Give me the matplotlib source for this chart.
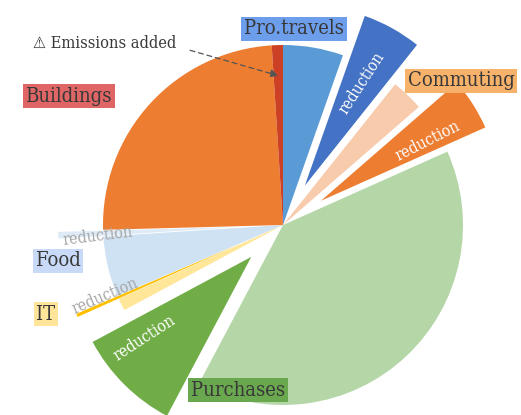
import numpy as np
import matplotlib.pyplot as plt

# Slices, clockwise from 12 o'clock (share of total, %)
slice_names = ['Pro.travels', 'reduction', 'Commuting', 'reduction', 'Purchases', 'reduction',
               'IT', 'reduction', 'Food', 'reduction', 'Buildings', 'Emissions added']
slice_values = [5.4, 5.3, 2.9, 4.7, 39.4, 9.4, 1.1, 0.3, 5.4, 0.6, 24.4, 1.0]
slice_colors = ['#5b9bd5', '#4472c4', '#f8cbad', '#ed7d31', '#b5d7a8', '#70ad47',
                '#ffe699', '#ffc000', '#cfe2f3', '#deebf7', '#ed7d31', '#cc4125']
is_reduction = [0, 1, 0, 1, 0, 1, 0, 1, 0, 1, 0, 0]

# Category tags (pixel positions on the 521x415 canvas)
cat_names = ['Pro.travels', 'Commuting', 'Purchases', 'IT', 'Food', 'Buildings']
cat_pos = [(294, 29), (461, 81), (238, 390), (46, 314), (58, 261), (69, 96)]
cat_bg = ['#6d9eeb', '#f6b26b', '#6aa84f', '#ffe599', '#c9daf8', '#e06666']

# "reduction" labels on the exploded slices
red_pos = [(362, 83), (428, 141), (144, 338), (105, 296), (98, 236)]
red_rot = [57, 27, 33, 23, 7]
red_col = ['white', 'white', 'white', '#a6a6a6', '#a6a6a6']

W, H = 521, 415
R = 180
cx, cy = 283, 225

fig = plt.figure(figsize=(W / 100, H / 100), dpi=100)
ax = fig.add_axes([0, 0, 1, 1])

explode = [0.25 * R * e for e in is_reduction]
wedges, _ = ax.pie(slice_values, colors=slice_colors, explode=explode, startangle=90,
                   counterclock=False, radius=R, center=(cx, H - cy),
                   wedgeprops=dict(linewidth=0))

ax.set_xlim(0, W)
ax.set_ylim(0, H)
ax.set_aspect('equal')
ax.axis('off')

serif = ['DejaVu Serif', 'DejaVu Sans']
for name, (x, y), bg in zip(cat_names, cat_pos, cat_bg):
    ax.text(x, H - y, name, ha='center', va='center', fontsize=14.5, family=serif,
            fontstretch='condensed', color='#383838',
            bbox=dict(boxstyle='square,pad=0.14', facecolor=bg, edgecolor='none'))

for (x, y), rot, col in zip(red_pos, red_rot, red_col):
    ax.text(x, H - y, 'reduction', ha='center', va='center', rotation=rot,
            fontsize=11.5, family=serif, fontstretch='condensed', color=col)

# arrow to the "Emissions added" slice
w = wedges[-1]
tm = np.deg2rad((w.theta1 + w.theta2) / 2)
px = w.center[0] + 0.83 * R * np.cos(tm)
py = w.center[1] + 0.83 * R * np.sin(tm)
ax.annotate('\u26a0 Emissions added', xy=(px, py), xytext=(105, H - 43),
            ha='center', va='center', fontsize=11.7, family=serif, fontstretch='condensed',
            color='#383838',
            arrowprops=dict(arrowstyle='-|>', linestyle=(0, (4, 3)), color='#555555',
                            lw=0.9, shrinkA=8, shrinkB=0, relpos=(1, 0.3)))

fig.savefig('out.png', dpi=100)
